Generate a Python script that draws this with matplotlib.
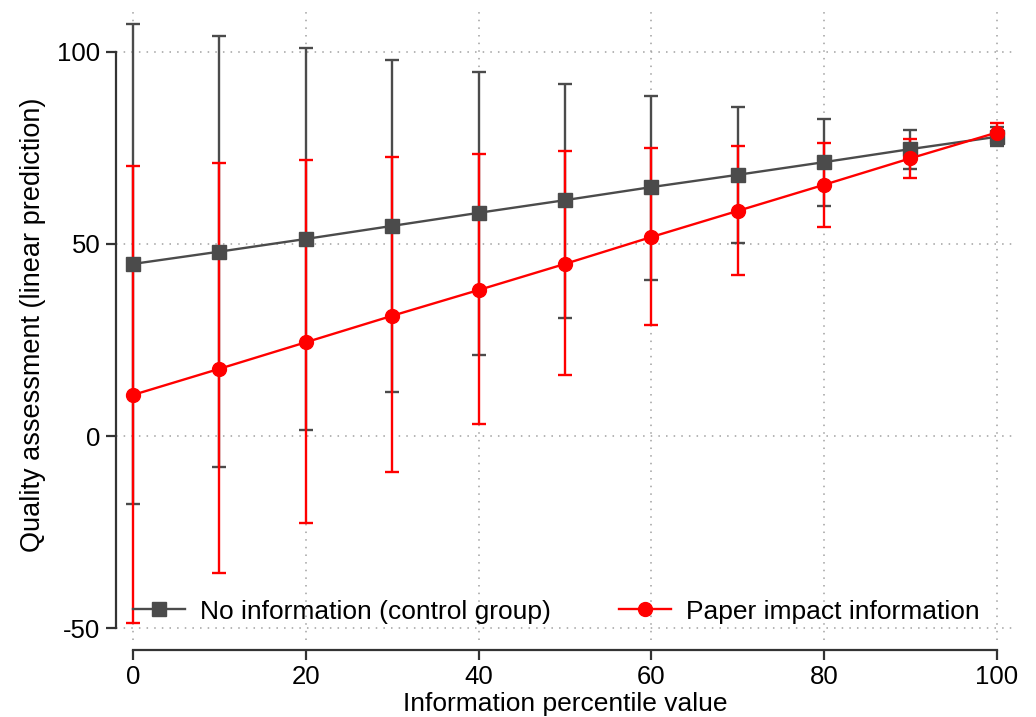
import matplotlib
matplotlib.use("Agg")
import matplotlib.pyplot as plt
import numpy as np

# Data
percentile = [0, 10, 20, 30, 40, 50, 60, 70, 80, 90, 100]

control_mean = [44.8, 48.0, 51.3, 54.7, 58.1, 61.4, 64.8, 68.0, 71.3, 74.7, 77.9]
control_hi = [107.3, 104.2, 101.0, 97.9, 94.8, 91.7, 88.6, 85.7, 82.6, 79.7, 80.5]
control_lo = [-17.7, -8.1, 1.6, 11.5, 21.1, 30.8, 40.5, 50.3, 59.9, 69.5, 75.4]

impact_mean = [10.7, 17.5, 24.4, 31.3, 38.0, 44.8, 51.8, 58.6, 65.4, 72.3, 79.0]
impact_hi = [70.2, 71.1, 71.9, 72.6, 73.4, 74.2, 75.0, 75.5, 76.4, 77.3, 81.5]
impact_lo = [-48.7, -35.7, -22.6, -9.4, 3.1, 15.9, 28.9, 41.8, 54.5, 67.2, 76.5]

series_labels = ["No information (control group)", "Paper impact information"]
x_ticks = [0, 20, 40, 60, 80, 100]
y_ticks = [-50, 0, 50, 100]
x_label = "Information percentile value"
y_label = "Quality assessment (linear prediction)"

GRAY = "#4b4b4b"
RED = "#ff0000"

plt.rcParams["font.family"] = ["Liberation Sans", "DejaVu Sans"]
plt.rcParams["axes.unicode_minus"] = False

fig = plt.figure(figsize=(10.36, 7.17), dpi=100)
ax = fig.add_axes([0.1117, 0.1074, 0.8671, 0.8786])

x = np.array(percentile)
cm, ch, cl = map(np.array, (control_mean, control_hi, control_lo))
im, ih, il = map(np.array, (impact_mean, impact_hi, impact_lo))

# error bars
ax.errorbar(x, cm, yerr=[cm - cl, ch - cm], fmt="none", ecolor=GRAY,
            elinewidth=1.7, capsize=5, capthick=1.7, zorder=2)
ax.errorbar(x, im, yerr=[im - il, ih - im], fmt="none", ecolor=RED,
            elinewidth=1.7, capsize=5, capthick=1.7, zorder=3)
# lines with markers
ax.plot(x, cm, color=GRAY, lw=1.7, marker="s", ms=9.5, mec=GRAY, mfc=GRAY,
        label=series_labels[0], zorder=4)
ax.plot(x, im, color=RED, lw=1.7, marker="o", ms=10, mec=RED, mfc=RED,
        label=series_labels[1], zorder=5)

ax.set_xlim(-2, 102)
ax.set_ylim(-53.1, 110.9)
ax.set_xticks(x_ticks)
ax.set_yticks(y_ticks)

ax.grid(True, color="#a0a0a0", linestyle=(0, (1, 4)), linewidth=1.1)
ax.set_axisbelow(True)

for s in ["top", "right"]:
    ax.spines[s].set_visible(False)
ax.spines["left"].set_bounds(-50, 100)
ax.spines["bottom"].set_bounds(0, 100)
ax.spines["bottom"].set_position(("outward", 7))
for s in ["left", "bottom"]:
    ax.spines[s].set_linewidth(1.6)
    ax.spines[s].set_color("#333333")

ax.tick_params(axis="both", length=7, width=1.6, color="#333333",
               labelsize=18.5, pad=4)

ax.set_xlabel(x_label, fontsize=19, labelpad=2)
ax.set_ylabel(y_label, fontsize=19.5, labelpad=8)

ax.legend(loc="center", bbox_to_anchor=(0.4905, 0.045), ncol=2, frameon=False,
          fontsize=19, handlelength=2.0, columnspacing=2.55, handletextpad=0.57,
          borderaxespad=0)

fig.savefig("out.png", dpi=100)
